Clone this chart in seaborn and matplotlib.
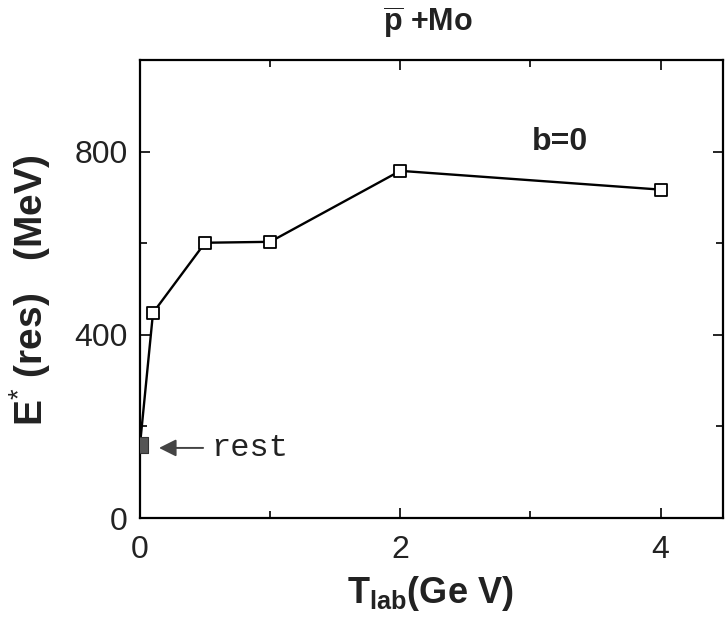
import matplotlib
matplotlib.use("Agg")
import matplotlib.pyplot as plt
import seaborn as sns
import pandas as pd

# ---- data ----
t_lab = [0.1, 0.5, 1.0, 2.0, 4.0]          # GeV
e_star = [448, 601, 603, 758, 717]         # MeV
rest_t = [0.0]
rest_e = [160]
x_major = [0, 2, 4]
x_minor = [1, 3]
y_major = [0, 400, 800]
y_minor = [200, 600, 1000]

sns.set_theme(style="ticks")
plt.rcParams['font.family'] = ['Liberation Sans', 'DejaVu Sans']
plt.rcParams['mathtext.fontset'] = 'custom'
plt.rcParams['mathtext.rm'] = 'Liberation Sans'
plt.rcParams['mathtext.it'] = 'Liberation Sans:italic'
plt.rcParams['mathtext.bf'] = 'Liberation Sans:bold'

W, H = 726, 624
fig = plt.figure(figsize=(W / 100, H / 100), dpi=100)
ax = fig.add_axes([140 / W, 1 - 518 / H, (723 - 140) / W, (518 - 60) / H])

line_df = pd.DataFrame({'T': rest_t + t_lab, 'E': rest_e + e_star})
sns.lineplot(data=line_df, x='T', y='E', color='black', linewidth=1.7,
             ax=ax, sort=True, zorder=2)
sns.scatterplot(x=t_lab, y=e_star, marker='s', s=66, facecolor='white',
                edgecolor='black', linewidth=1.3, ax=ax, zorder=3)
sns.scatterplot(x=rest_t, y=rest_e, marker='s', s=120, color='#555555',
                edgecolor='#333333', linewidth=0.8, ax=ax, zorder=3)

ax.set_xlim(0, 4.48)
ax.set_ylim(0, 1000)
ax.set_xticks(x_major)
ax.set_xticks(x_minor, minor=True)
ax.set_yticks(y_major)
ax.set_yticks(y_minor, minor=True)
ax.set_xticklabels([str(v) for v in x_major])
ax.set_yticklabels([str(v) for v in y_major])
ax.tick_params(which='both', direction='in', top=True, right=True,
               color='black', width=1.2)
ax.tick_params(which='major', length=7)
ax.tick_params(which='minor', length=5)
ax.tick_params(axis='x', which='major', labelsize=23, pad=12)
ax.tick_params(axis='y', which='major', labelsize=23, pad=9)
for lab in ax.get_xticklabels() + ax.get_yticklabels():
    lab.set_color('#222222')
for s in ax.spines.values():
    s.set_linewidth(1.6)
    s.set_color('black')
ax.set_xlabel('')
ax.set_ylabel('')

# annotations
ax.annotate('', xy=(0.146, 153), xytext=(0.485, 153),
            arrowprops=dict(arrowstyle='-|>', mutation_scale=26,
                            color='#444444', lw=1.4, shrinkA=0, shrinkB=0))
ax.text(0.55, 153, 'rest', family=['Liberation Mono', 'DejaVu Sans Mono'],
        fontsize=23, ha='left', va='center', color='#222222')
ax.text(3.23, 820, 'b=0', fontsize=23, fontweight='bold', ha='center',
        va='center', color='#222222')

fig.text(428 / W, 1 - 23 / H, r'$\overline{\mathbf{p}}$ +Mo', fontsize=22,
         fontweight='bold', ha='center', va='center', color='#222222')
fig.text(30 / W, 1 - 290 / H, r'E$^{*}$ (res)   (MeV)', rotation=90,
         fontsize=28, fontweight='bold', ha='center', va='center',
         color='#222222')
fig.text(430 / W, 1 - 603 / H, r'$\mathbf{T}_{\mathbf{lab}}\mathbf{(Ge\ V)}$',
         fontsize=26, ha='center', va='baseline', color='#222222')

fig.savefig('out.png', dpi=100)
